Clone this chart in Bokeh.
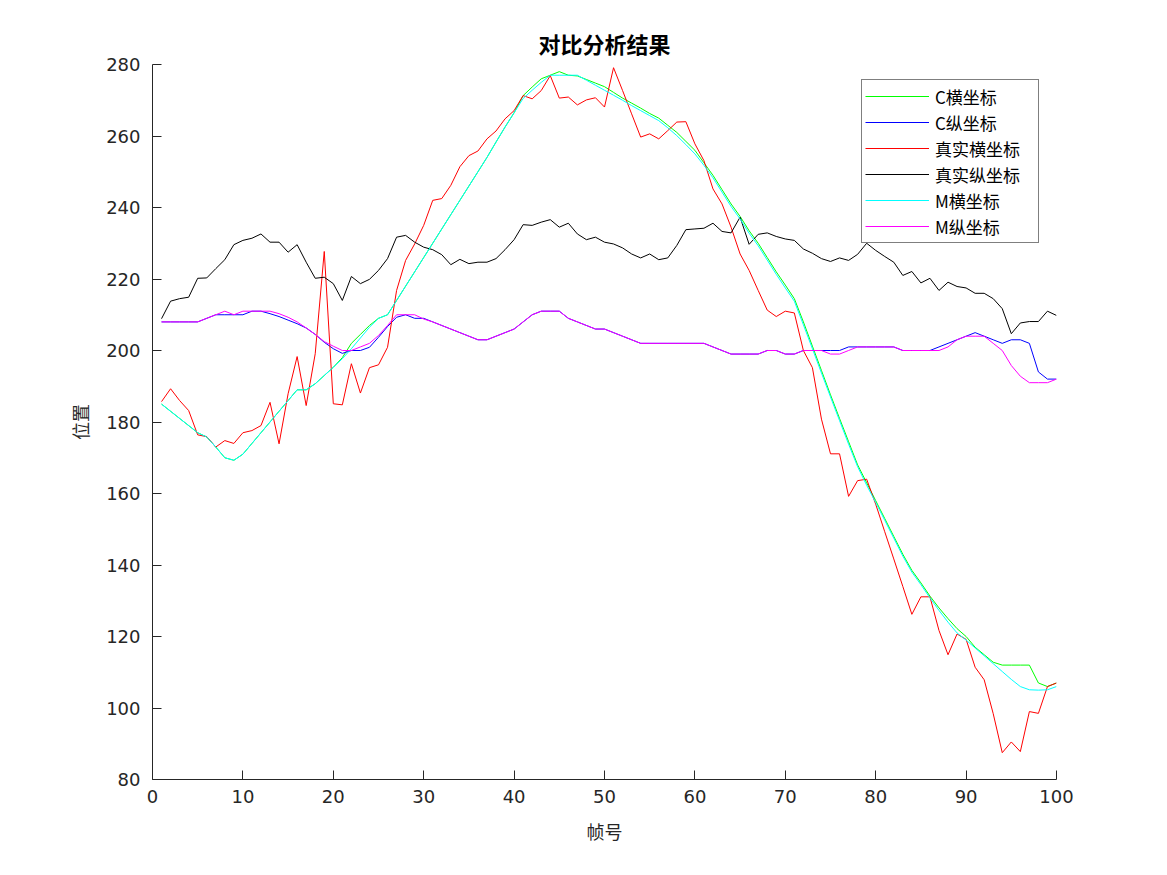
from bokeh.plotting import figure
from bokeh.models import Range1d, Legend, LegendItem, FixedTicker
from bokeh.embed import file_html
from bokeh.resources import INLINE

frames = list(range(1, 101))

c_x = [185, 183, 181, 179, 177, 175.8, 173, 170, 169.3, 171,
       174, 177, 180, 183, 186, 189, 189, 190.7, 193, 195.3,
       198, 202, 204.5, 207, 209, 210, 214, 218, 222, 226,
       230, 234, 238, 242, 246, 250, 254, 258.3, 262.5, 266.5,
       271.3, 273.7, 276, 277, 278, 277, 276.8, 275.8, 274.8, 273.8,
       272.2, 270.6, 269.2, 267.8, 266.3, 265, 263, 261, 258.5, 256,
       252.5, 249, 245, 241, 237.5, 233.5, 230, 226, 222, 218.3,
       214.5, 208, 201.2, 194.4, 187.6, 181, 174.5, 168, 163, 158,
       153, 148, 143, 138.5, 135, 131.3, 128, 125, 122.2, 120,
       117, 114.9, 112.8, 112, 112, 112, 112, 107, 106, 107]

c_y = [208, 208, 208, 208, 208, 209, 210, 210, 210, 210,
       211, 211, 210.3, 209.5, 208.5, 207.5, 206.3, 204.5, 202.3, 200.5,
       199.2, 200, 200, 200.9, 203.7, 206.7, 209.3, 210, 209, 209,
       208, 207, 206, 205, 204, 203, 203, 204, 205, 206,
       208, 210, 211, 211, 211, 209, 208, 207, 206, 206,
       205, 204, 203, 202, 202, 202, 202, 202, 202, 202,
       202, 201, 200, 199, 199, 199, 199, 200, 200, 199,
       199, 200, 200, 200, 200, 200, 201, 201, 201, 201,
       201, 201, 200, 200, 200, 200, 201, 202, 203, 204,
       205, 204, 203, 202, 203, 203, 202, 194, 192, 192]

real_x = [185.7, 189.3, 186, 183.2, 176.4, 175.9, 173, 174.8, 174, 177,
          177.6, 179, 185.5, 173.9, 187.9, 198.3, 184.6, 199.1, 227.7, 185.1,
          184.8, 196.3, 188.1, 195.2, 196, 200.9, 216.8, 225.2, 229.8, 235,
          242, 242.5, 246.2, 251.4, 254.5, 255.8, 259.2, 261.4, 264.8, 267.1,
          271.3, 270.4, 272.7, 276.9, 270.6, 270.9, 268.7, 270.1, 270.7, 268.1,
          279.1, 272.7, 266.2, 259.7, 260.6, 259.2, 261.5, 263.9, 264, 257.8,
          253.1, 245.2, 241, 234.5, 227, 222.4, 216.8, 211.3, 209.5, 211,
          210.5, 200, 195.2, 180.8, 171.1, 171.1, 159.2, 163.6, 164, 157,
          149.3, 141.7, 134, 126.2, 131.1, 131.1, 121.7, 114.9, 120.7, 119.2,
          111.4, 107.9, 98.4, 87.5, 90.5, 87.8, 99, 98.5, 106, 107]

real_y = [208.9, 213.8, 214.5, 214.9, 220.2, 220.3, 222.9, 225.4, 229.6, 230.8,
          231.4, 232.6, 230.3, 230.3, 227.5, 229.6, 224.7, 220.2, 220.5, 218.7,
          214, 220.7, 218.7, 219.9, 222.4, 225.7, 231.7, 232.2, 230.3, 228.9,
          228.2, 226.8, 224, 225.5, 224.3, 224.7, 224.7, 225.7, 228.2, 231,
          235.2, 235, 235.9, 236.6, 234.5, 235.6, 232.6, 231, 231.7, 230.3,
          229.8, 228.7, 227, 225.9, 227, 225.4, 225.9, 229.4, 233.8, 234,
          234.2, 235.6, 233.3, 232.9, 237.3, 229.7, 232.5, 232.9, 231.9, 231.2,
          230.8, 228.4, 227.2, 225.7, 224.9, 225.9, 225.2, 226.9, 230, 228,
          226.3, 224.7, 221, 222.1, 218.9, 220.2, 216.8, 219.1, 217.9, 217.5,
          216, 216, 214.5, 211.7, 204.7, 207.7, 208.1, 208.1, 211, 209.8]

m_x = [185, 183, 181, 179, 177, 175.8, 173, 170, 169.3, 171,
       174, 177, 180, 183, 186, 189, 189, 190.7, 193, 195.3,
       197.7, 200.5, 203.5, 206.5, 209, 210, 214, 218, 222, 226,
       230, 234, 238, 242, 246, 250, 254, 258.3, 262.5, 266.5,
       270.5, 272.8, 275, 277, 277, 277, 277, 275.6, 274.2, 272.8,
       271.4, 270, 268.5, 267.1, 265.7, 264.3, 262.3, 260.1, 257.6, 255,
       251.8, 248.3, 244.3, 240.3, 236.8, 232.8, 229.3, 225.3, 221.3, 217.5,
       213.8, 207.2, 200.5, 193.7, 187, 180.4, 173.8, 167.5, 162.3, 157.5,
       152.5, 147.5, 142.5, 138, 134.5, 130.8, 127.3, 124, 121, 119,
       116.8, 114.6, 112.4, 110.2, 108, 106, 105.1, 105, 105.1, 106]

m_y = [208, 208, 208, 208, 208, 209, 210, 211, 210, 211,
       211, 211, 211, 210.3, 209.3, 208, 206.3, 204.5, 202.5, 201.2,
       200, 200, 201, 202, 204.2, 207, 210, 210, 210, 208.8,
       208, 207, 206, 205, 204, 203, 203, 204, 205, 206,
       208, 210, 211, 211, 211, 209, 208, 207, 206, 206,
       205, 204, 203, 202, 202, 202, 202, 202, 202, 202,
       202, 201, 200, 199, 199, 199, 199, 200, 200, 199,
       199, 200, 200, 200, 199, 199, 200, 201, 201, 201,
       201, 201, 200, 200, 200, 200, 200, 201, 203, 204,
       204, 204, 202, 200, 195.8, 192.8, 191, 191, 191, 192]

x_ticks = list(range(0, 101, 10))
y_ticks = list(range(80, 281, 20))

series = [
    ("C横坐标", c_x, "#00ff00"),
    ("C纵坐标", c_y, "#0000ff"),
    ("真实横坐标", real_x, "#ff0000"),
    ("真实纵坐标", real_y, "#000000"),
    ("M横坐标", m_x, "#00ffff"),
    ("M纵坐标", m_y, "#ff00ff"),
]

CJK = "Noto Sans CJK SC"
AX = "#262626"

p = figure(width=1167, height=875, x_range=Range1d(0, 100), y_range=Range1d(80, 280),
           output_backend="svg", toolbar_location=None,
           min_border_left=152, min_border_right=111, min_border_top=64, min_border_bottom=96)

p.xgrid.visible = False
p.ygrid.visible = False
p.outline_line_color = None
p.background_fill_color = "white"
p.border_fill_color = "white"

items = []
for name, ys, col in series:
    r = p.line(frames, ys, line_color=col, line_width=1)
    items.append(LegendItem(label=name, renderers=[r]))

p.xaxis.ticker = FixedTicker(ticks=x_ticks)
p.yaxis.ticker = FixedTicker(ticks=y_ticks)
for ax in (p.xaxis[0], p.yaxis[0]):
    ax.major_tick_in = 9
    ax.major_tick_out = 0
    ax.minor_tick_line_color = None
    ax.axis_line_color = AX
    ax.major_tick_line_color = AX
    ax.major_label_text_color = AX
    ax.major_label_text_font = "DejaVu Sans"
    ax.major_label_text_font_size = "18px"
    ax.axis_label_text_font = CJK
    ax.axis_label_text_font_size = "18px"
    ax.axis_label_text_font_style = "normal"
    ax.axis_label_text_color = AX

p.xaxis.axis_label = "帧号"
p.yaxis.axis_label = "位置"
p.xaxis.major_label_standoff = 10
p.yaxis.major_label_standoff = 12
p.xaxis.axis_label_standoff = 12
p.yaxis.axis_label_standoff = 10

p.title.text = "对比分析结果"
p.title.align = "center"
p.title.text_font = CJK
p.title.text_font_size = "22px"
p.title.text_font_style = "bold"
p.title.text_color = "black"
p.title.standoff = 11

legend = Legend(items=items, location=(709, 536))
legend.label_text_font = CJK
legend.label_text_font_size = "17px"
legend.label_text_color = "black"
legend.glyph_width = 64
legend.glyph_height = 26
legend.label_height = 26
legend.label_width = 100
legend.label_standoff = 6
legend.spacing = 0
legend.padding = 3
legend.margin = 0
legend.border_line_color = "black"
legend.border_line_width = 1
legend.background_fill_color = "white"
legend.background_fill_alpha = 1
p.add_layout(legend)

open("out.html", "w").write(file_html(p, INLINE))
